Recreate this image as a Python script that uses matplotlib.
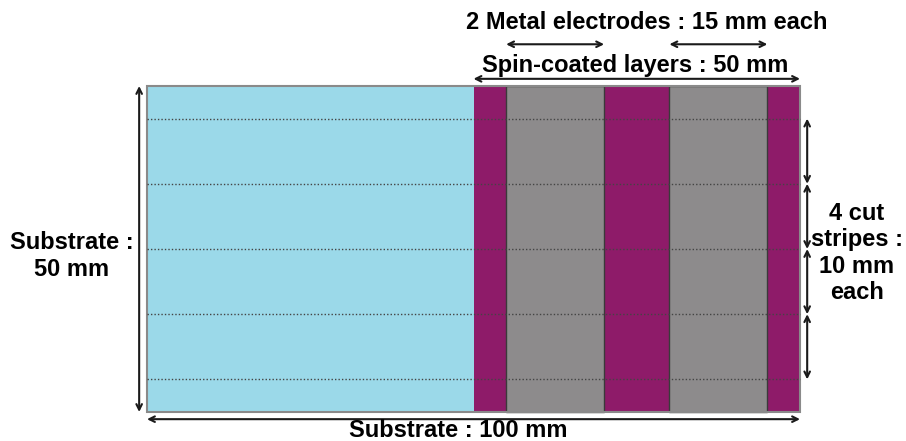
import matplotlib.pyplot as plt
from matplotlib.patches import Rectangle

plt.rcParams['font.family'] = ['Liberation Sans', 'DejaVu Sans']

# geometry in mm
substrate_w = 100
substrate_h = 50
coated_start = 50
electrodes = [(55, 70), (80, 95)]
cut_lines = [5, 15, 25, 35, 45]

blue = '#9BD9E9'
purple = '#8E1B69'
grey = '#8D8B8C'
ink = '#1a1a1a'

fig = plt.figure(figsize=(9.06, 4.41), dpi=100)
ax = fig.add_axes([0, 0, 1, 1])
ax.set_xlim(-147 / 6.53, (906 - 147) / 6.53)
ax.set_ylim(-(441 - 412) / 6.52, 412 / 6.52)
ax.axis('off')

# substrate + coated area + electrodes
ax.add_patch(Rectangle((0, 0), coated_start, substrate_h, facecolor=blue, edgecolor='none'))
ax.add_patch(Rectangle((coated_start, 0), substrate_w - coated_start, substrate_h,
                       facecolor=purple, edgecolor='none'))
for x0, x1 in electrodes:
    ax.add_patch(Rectangle((x0, 0), x1 - x0, substrate_h, facecolor=grey,
                           edgecolor='#3a3a3a', lw=1))
ax.add_patch(Rectangle((0, 0), substrate_w, substrate_h, facecolor='none',
                       edgecolor='#8a8a8a', lw=1.5))

# cut lines
for y in cut_lines:
    ax.plot([0, substrate_w], [y, y], color='#444444', lw=1, ls=(0, (1, 1.5)))

arrow = dict(arrowstyle='<->', color=ink, lw=1.5, mutation_scale=10,
             shrinkA=0, shrinkB=0)

def dim(p0, p1):
    ax.annotate('', xy=p1, xytext=p0, arrowprops=arrow)

dim((-1.2, 0), (-1.2, substrate_h))
dim((0, -1.1), (substrate_w, -1.1))
dim((coated_start, 51.1), (substrate_w, 51.1))
for x0, x1 in electrodes:
    dim((x0, 56.4), (x1, 56.4))
for y0, y1 in zip(cut_lines[:-1], cut_lines[1:]):
    dim((101.1, y0), (101.1, y1))

kw = dict(fontsize=17, fontweight='bold', color='black', ha='center', va='center')
ax.text(76.6, 59.8, '2 Metal electrodes : 15 mm each', **kw)
ax.text(74.7, 53.2, 'Spin-coated layers : 50 mm', **kw)
ax.text(-11.5, 23.9, 'Substrate :\n50 mm', linespacing=1.2, **kw)
ax.text(108.7, 24.4, '4 cut\nstripes :\n10 mm\neach', linespacing=1.2, **kw)
ax.text(47.6, -2.85, 'Substrate : 100 mm', **kw)

fig.savefig('out.png', dpi=100)
